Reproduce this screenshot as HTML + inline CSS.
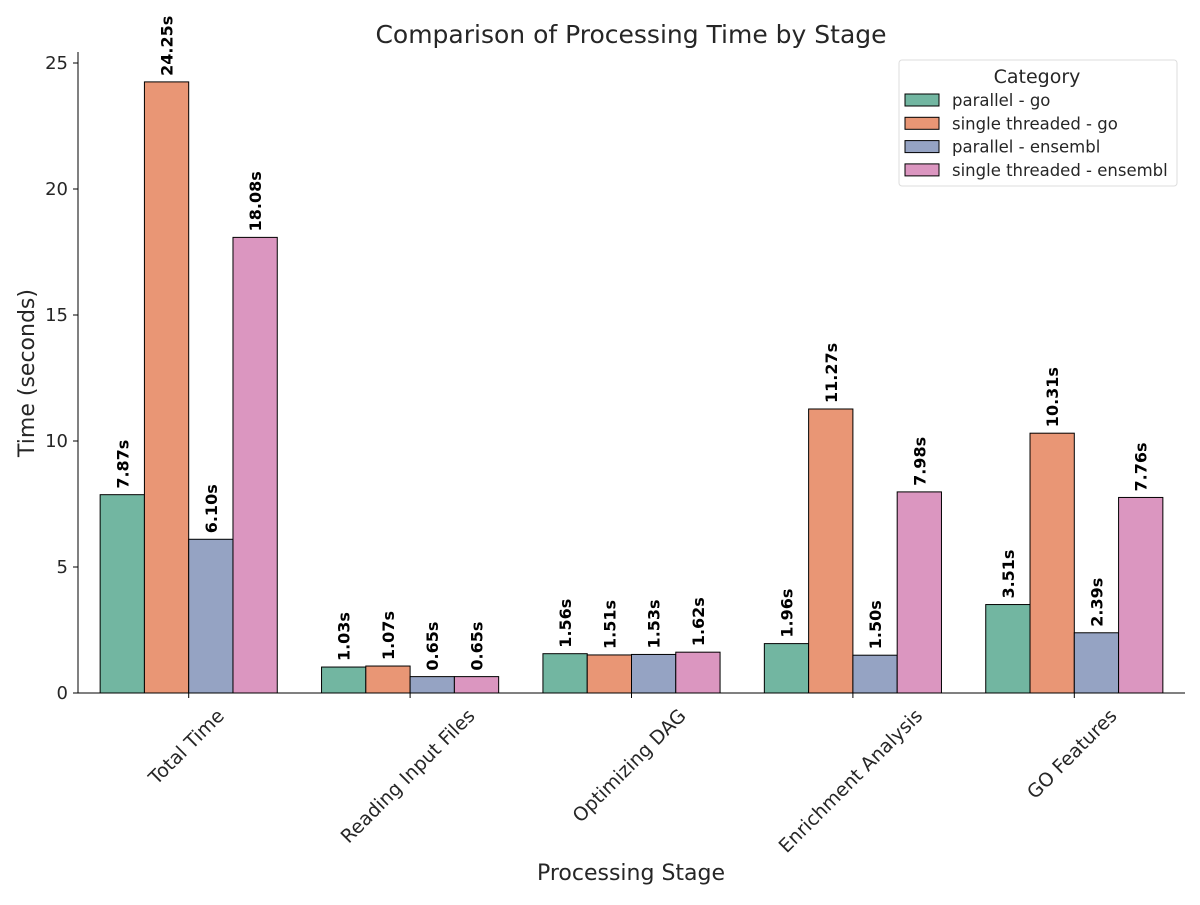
<!DOCTYPE html>
<html><head><meta charset="utf-8"><style>
body{margin:0;background:#fff;}
svg text{font-family:"DejaVu Sans","Liberation Sans",sans-serif;fill:#262626;}
</style></head><body>
<svg id="chart" width="1200" height="900" xmlns="http://www.w3.org/2000/svg">
<text x="631" y="43" text-anchor="middle" font-size="25">Comparison of Processing Time by Stage</text>
<text transform="translate(34,373) rotate(-90)" text-anchor="middle" font-size="22">Time (seconds)</text>
<text x="631" y="880" text-anchor="middle" font-size="22">Processing Stage</text>
<g id="bars"></g><g id="axes"></g><g id="legend"></g>
</svg>
<script>
const categories=["Total Time","Reading Input Files","Optimizing DAG","Enrichment Analysis","GO Features"];
const seriesNames=["parallel - go","single threaded - go","parallel - ensembl","single threaded - ensembl"];
const parallelGo=[7.87,1.03,1.56,1.96,3.51];
const singleGo=[24.25,1.07,1.51,11.27,10.31];
const parallelEns=[6.10,0.65,1.53,1.50,2.39];
const singleEns=[18.08,0.65,1.62,7.98,7.76];
const yTicks=[0,5,10,15,20,25];
const series=[parallelGo,singleGo,parallelEns,singleEns];
const colors=["#72b6a1","#e99675","#95a3c3","#db96c0"];
const NS="http://www.w3.org/2000/svg";
const x0=78,x1=1185,yBase=693,yTop=63,yMax=25;
const y=v=>yBase-(yBase-yTop)*v/yMax;
const groupW=(x1-x0)/categories.length;
const gc=i=>x0+groupW*(i+0.5);
const bw=groupW*0.8/4;
function mk(tag,attrs,parent){const e=document.createElementNS(NS,tag);for(const k in attrs)e.setAttribute(k,attrs[k]);parent.appendChild(e);return e;}
const bars=document.getElementById('bars'),axes=document.getElementById('axes'),leg=document.getElementById('legend');
series.forEach((s,si)=>{s.forEach((v,ci)=>{
 const bx=gc(ci)-2*bw+si*bw;
 const r=mk('rect',{x:bx,y:y(v),width:bw,height:yBase-y(v),fill:colors[si],stroke:'#000','stroke-width':1},bars);
 
 
 const t=mk('text',{transform:`translate(${bx+bw/2+6},${y(v)-6}) rotate(-90)`,'font-size':16,'font-weight':'bold',style:'fill:#000'},bars);
 t.textContent=v.toFixed(2)+'s';
 
 
});});
mk('line',{x1:x0,y1:yBase,x2:x1,y2:yBase,stroke:'#000','stroke-width':1},axes);
mk('line',{x1:x0,y1:yBase,x2:x0,y2:52,stroke:'#000','stroke-width':1},axes);
yTicks.forEach(v=>{
 mk('line',{x1:x0-5,y1:y(v),x2:x0,y2:y(v),stroke:'#000'},axes);
 const t=mk('text',{x:x0-10,y:y(v)+6,'text-anchor':'end','font-size':18},axes);
 t.textContent=v;
 
 
});
categories.forEach((c,i)=>{
 const cx=gc(i);
 mk('line',{x1:cx,y1:yBase,x2:cx,y2:yBase+5,stroke:'#000'},axes);
 const t=mk('text',{'text-anchor':'middle','font-size':19,'dominant-baseline':'central'},axes);
 t.textContent=c;
 
 
 const w=t.getComputedTextLength();
 const cy=yBase+13+(w*0.707+19*0.707)/2;
 t.setAttribute('transform',`translate(${cx-2},${cy}) rotate(-45)`);
});
const lb=mk('rect',{x:899,y:60,width:278,height:126,rx:3,fill:'#fff',stroke:'#ddd'},leg);


const lt=mk('text',{x:1037,y:83,'text-anchor':'middle','font-size':19},leg);
lt.textContent='Category';


seriesNames.forEach((n,i)=>{
 const yy=100+i*23.3;
 mk('rect',{x:905,y:yy-6,width:34,height:12,fill:colors[i],stroke:'#000'},leg);
 const t=mk('text',{x:952,y:yy+6,'font-size':16.5},leg);
 t.textContent=n;
 
 
});
</script>
</body></html>
